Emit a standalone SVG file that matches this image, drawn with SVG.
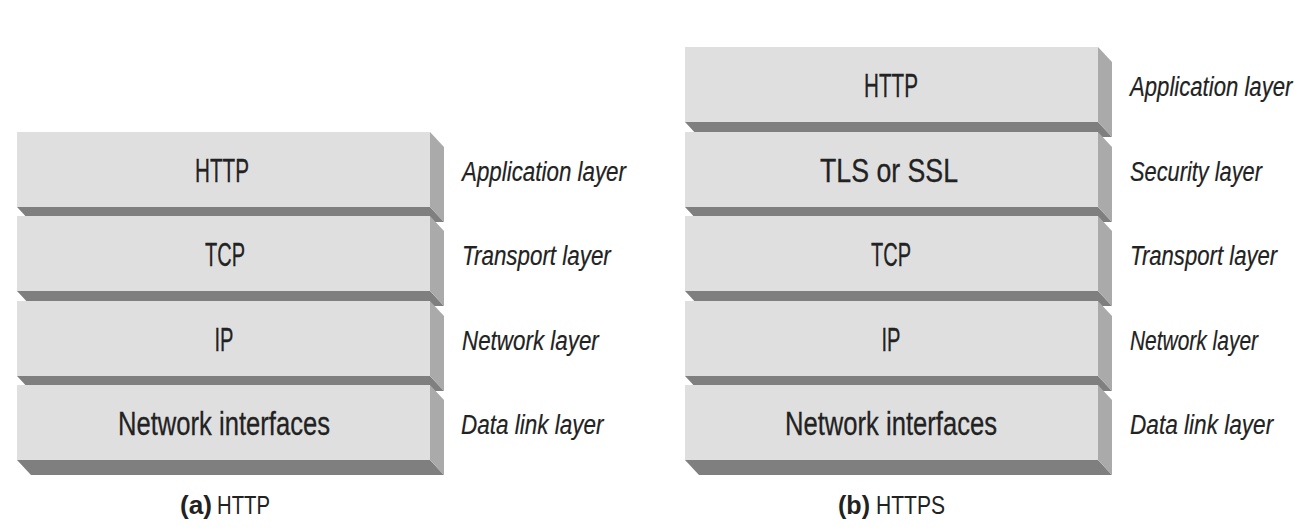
<svg xmlns="http://www.w3.org/2000/svg" xmlns:xlink="http://www.w3.org/1999/xlink" width="1312" height="532" viewBox="0 0 1312 532">
<style>
.front{fill:#dfdfdf}
.bottom{fill:#7f7f7f}
.side{fill:#aaaaaa}
.lbl{font-family:"Liberation Sans",Arial,sans-serif;font-size:34px;fill:#222222;stroke:#222222;stroke-width:0.3;text-anchor:middle}
.layer{font-family:"Liberation Sans",Arial,sans-serif;font-style:italic;font-size:28px;fill:#222222;stroke:#222222;stroke-width:0.2}
.cap{font-family:"Liberation Sans",Arial,sans-serif;font-size:25px;fill:#222222}
.capb{font-family:"Liberation Sans",Arial,sans-serif;font-size:25px;font-weight:bold;fill:#222222}
</style>
<defs>
<g id="box">
<polygon class="bottom" points="0,75 413,75 427,90 14,90"/>
<polygon class="side" points="413,0 427,15 427,90 413,75"/>
<rect class="front" x="0" y="0" width="413" height="75"/>
</g>
</defs>
<rect width="1312" height="532" fill="#ffffff"/>
<g id="stack-a">
<g id="a-http"><use xlink:href="#box" x="17" y="132"/><text class="lbl" x="222" y="182" textLength="54" lengthAdjust="spacingAndGlyphs">HTTP</text><text class="layer" transform="translate(462,181) scale(0.8,1)" x="0" y="0" textLength="205" lengthAdjust="spacingAndGlyphs">Application layer</text></g>
<g id="a-tcp"><use xlink:href="#box" x="17" y="216"/><text class="lbl" x="225" y="266" textLength="40" lengthAdjust="spacingAndGlyphs">TCP</text><text class="layer" transform="translate(462,265) scale(0.8,1)" x="0" y="0" textLength="186" lengthAdjust="spacingAndGlyphs">Transport layer</text></g>
<g id="a-ip"><use xlink:href="#box" x="17" y="301"/><text class="lbl" x="224" y="351" textLength="19" lengthAdjust="spacingAndGlyphs">IP</text><text class="layer" transform="translate(462,350) scale(0.8,1)" x="0" y="0" textLength="171" lengthAdjust="spacingAndGlyphs">Network layer</text></g>
<g id="a-ni"><use xlink:href="#box" x="17" y="385"/><text class="lbl" x="224" y="435" textLength="212" lengthAdjust="spacingAndGlyphs">Network interfaces</text><text class="layer" transform="translate(461,434) scale(0.8,1)" x="0" y="0" textLength="178" lengthAdjust="spacingAndGlyphs">Data link layer</text></g>
<g id="a-caption"><text class="capb" x="180" y="514" textLength="32" lengthAdjust="spacingAndGlyphs">(a)</text><text class="cap" x="217" y="514" textLength="53" lengthAdjust="spacingAndGlyphs">HTTP</text></g>
</g>
<g id="stack-b">
<g id="b-http"><use xlink:href="#box" x="685" y="47"/><text class="lbl" x="891" y="97" textLength="54" lengthAdjust="spacingAndGlyphs">HTTP</text><text class="layer" transform="translate(1130,96) scale(0.8,1)" x="0" y="0" textLength="203" lengthAdjust="spacingAndGlyphs">Application layer</text></g>
<g id="b-tls"><use xlink:href="#box" x="685" y="132"/><text class="lbl" x="889" y="182" textLength="138" lengthAdjust="spacingAndGlyphs">TLS or SSL</text><text class="layer" transform="translate(1130,181) scale(0.8,1)" x="0" y="0" textLength="165" lengthAdjust="spacingAndGlyphs">Security layer</text></g>
<g id="b-tcp"><use xlink:href="#box" x="685" y="216"/><text class="lbl" x="891" y="266" textLength="40" lengthAdjust="spacingAndGlyphs">TCP</text><text class="layer" transform="translate(1130,265) scale(0.8,1)" x="0" y="0" textLength="184" lengthAdjust="spacingAndGlyphs">Transport layer</text></g>
<g id="b-ip"><use xlink:href="#box" x="685" y="301"/><text class="lbl" x="891" y="351" textLength="19" lengthAdjust="spacingAndGlyphs">IP</text><text class="layer" transform="translate(1130,350) scale(0.8,1)" x="0" y="0" textLength="160" lengthAdjust="spacingAndGlyphs">Network layer</text></g>
<g id="b-ni"><use xlink:href="#box" x="685" y="385"/><text class="lbl" x="891" y="435" textLength="212" lengthAdjust="spacingAndGlyphs">Network interfaces</text><text class="layer" transform="translate(1130,434) scale(0.8,1)" x="0" y="0" textLength="179" lengthAdjust="spacingAndGlyphs">Data link layer</text></g>
<g id="b-caption"><text class="capb" x="838" y="514" textLength="32" lengthAdjust="spacingAndGlyphs">(b)</text><text class="cap" x="876" y="514" textLength="69" lengthAdjust="spacingAndGlyphs">HTTPS</text></g>
</g>
<g id="connectors"/>
</svg>
